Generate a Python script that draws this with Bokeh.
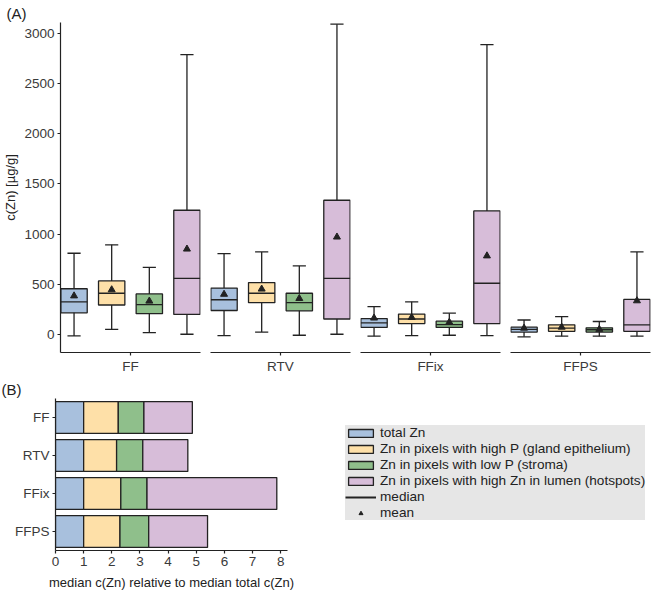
from bokeh.plotting import figure
from bokeh.models import (ColumnDataSource, Range1d, FactorRange, FixedTicker,
                          Title, Legend, LegendItem)
from bokeh.layouts import row, column
from bokeh.transform import dodge
from bokeh.embed import file_html
from bokeh.resources import INLINE

# ---------------- data ----------------
groups = ["FF", "RTV", "FFix", "FFPS"]
series = ["total Zn",
          "Zn in pixels with high P (gland epithelium)",
          "Zn in pixels with low P (stroma)",
          "Zn in pixels with high Zn in lumen (hotspots)"]
colors = ["#A8C0DD", "#FEE0A8", "#8FBF8B", "#D7BDD9"]

# box plot statistics, one list per group (series order as above), c(Zn) in µg/g
whisker_low = [[-17, 49, 16, 0], [-14, 22, -10, 0], [-19, -14, -10, -14], [-26, -19, -19, -19]]
quart_1 = [[214, 292, 205, 198], [237, 315, 234, 152], [68, 107, 68, 107], [22, 29, 22, 29]]
medians = [[324, 409, 295, 558], [344, 409, 315, 558], [113, 152, 97, 509], [49, 61, 45, 94]]
quart_3 = [[454, 532, 402, 1237], [461, 516, 409, 1337], [156, 201, 130, 1230], [71, 94, 64, 347]]
whisker_high = [[808, 892, 668, 2789], [805, 821, 682, 3093], [276, 324, 210, 2889], [142, 175, 127, 821]]
means = [[383, 444, 331, 850], [399, 451, 357, 970], [162, 168, 120, 782], [61, 71, 49, 334]]
y_ticks = [0, 500, 1000, 1500, 2000, 2500, 3000]

# median c(Zn) relative to median total c(Zn) (stacked segments), per group
rel_total = [1.00, 1.00, 1.00, 1.00]
rel_high_p = [1.23, 1.17, 1.32, 1.29]
rel_low_p = [0.91, 0.93, 0.93, 1.02]
rel_hotspots = [1.72, 1.60, 4.61, 2.09]
rel_ticks = [0, 1, 2, 3, 4, 5, 6, 7, 8]

# ---------------- style ----------------
FONT = "Liberation Sans"
INK = "#222222"
TICK_TXT = "#3A3A3A"
BOX_W = 0.7
LW = 1.3
TOP = 22


def style_axis(ax):
    ax.axis_line_color = INK
    ax.axis_line_width = 1.2
    ax.major_tick_line_color = INK
    ax.major_tick_line_width = 1.2
    ax.major_tick_out = 3
    ax.major_tick_in = 0
    ax.minor_tick_line_color = None
    ax.major_label_text_font = FONT
    ax.major_label_text_font_size = "13.5px"
    ax.major_label_text_color = TICK_TXT
    ax.major_label_standoff = 3
    ax.axis_label_text_font = FONT
    ax.axis_label_text_font_size = "13px"
    ax.axis_label_text_font_style = "normal"
    ax.axis_label_text_color = INK


def panel_tag(text):
    return Title(text=text, align="left", offset=-54, standoff=2,
                 text_font=FONT, text_font_size="15px", text_font_style="normal",
                 text_color=INK)


# ---------------- panel A ----------------
y_range = Range1d(-182, 3110)
top_figs = []
n = len(series)
for gi, g in enumerate(groups):
    first = gi == 0
    f = figure(frame_width=140, frame_height=330,
               x_range=Range1d(-0.36, n - 1 + 0.36), y_range=y_range,
               output_backend="svg", toolbar_location=None,
               y_axis_location="left" if first else None,
               min_border_left=55 if first else 5,
               min_border_right=2 if gi == len(groups) - 1 else 5,
               min_border_top=TOP, min_border_bottom=0)
    f.outline_line_color = None
    f.grid.visible = False

    src = ColumnDataSource(dict(x=list(range(n)), lo=whisker_low[gi], q1=quart_1[gi],
                                med=medians[gi], q3=quart_3[gi], hi=whisker_high[gi],
                                mean=means[gi], color=colors))
    # whiskers and caps
    f.segment(x0="x", y0="lo", x1="x", y1="hi", source=src, line_color=INK, line_width=LW)
    f.segment(x0=dodge("x", -BOX_W / 4), y0="hi", x1=dodge("x", BOX_W / 4), y1="hi",
              source=src, line_color=INK, line_width=LW)
    f.segment(x0=dodge("x", -BOX_W / 4), y0="lo", x1=dodge("x", BOX_W / 4), y1="lo",
              source=src, line_color=INK, line_width=LW)
    # boxes
    f.vbar(x="x", width=BOX_W, bottom="q1", top="q3", source=src,
           fill_color="color", line_color=INK, line_width=LW)
    # medians
    f.segment(x0=dodge("x", -BOX_W / 2), y0="med", x1=dodge("x", BOX_W / 2), y1="med",
              source=src, line_color=INK, line_width=LW)
    # means
    f.scatter(x="x", y="mean", marker="triangle", size=7, source=src,
              fill_color=INK, line_color=INK)

    centre = (n - 1) / 2
    f.xaxis.ticker = FixedTicker(ticks=[centre])
    f.xaxis.major_label_overrides = {centre: g}
    style_axis(f.xaxis[0])
    if first:
        f.yaxis.ticker = FixedTicker(ticks=y_ticks)
        f.yaxis.axis_label = "c(Zn) [µg/g]"
        f.yaxis.axis_label_standoff = 3
        style_axis(f.yaxis[0])
        f.add_layout(panel_tag("(A)"), "above")
    top_figs.append(f)

# ---------------- panel B ----------------
src_b = ColumnDataSource(dict(group=groups, total=rel_total, high_p=rel_high_p,
                              low_p=rel_low_p, hot=rel_hotspots))
pb = figure(y_range=FactorRange(factors=groups[::-1]), x_range=Range1d(0, 8.24),
            frame_width=232, frame_height=152, output_backend="svg", toolbar_location=None,
            min_border_left=55, min_border_right=20, min_border_top=TOP, min_border_bottom=0)
pb.outline_line_color = None
pb.grid.visible = False
pb.hbar_stack(["total", "high_p", "low_p", "hot"], y="group", height=0.84,
              fill_color=colors, line_color=INK, line_width=LW, source=src_b)
pb.xaxis.ticker = FixedTicker(ticks=rel_ticks)
pb.xaxis.axis_label = "median c(Zn) relative to median total c(Zn)"
style_axis(pb.xaxis[0])
style_axis(pb.yaxis[0])
pb.xaxis.axis_label_standoff = 6
pb.add_layout(panel_tag("(B)"), "above")

# ---------------- legend ----------------
pl = figure(frame_width=340, frame_height=152, x_range=Range1d(0, 1), y_range=Range1d(0, 1),
            output_backend="svg", toolbar_location=None,
            x_axis_location=None, y_axis_location=None,
            min_border_left=0, min_border_right=0, min_border_top=TOP, min_border_bottom=44)
pl.outline_line_color = None
pl.grid.visible = False
items = []
# legend-only renderers, placed outside the visible range
for s, c in zip(series, colors):
    r = pl.quad(left=[5], right=[6], top=[6], bottom=[5], fill_color=c, line_color=INK,
                line_width=LW)
    items.append(LegendItem(label=s, renderers=[r]))
r_med = pl.line(x=[5, 6], y=[5, 5], line_color=INK, line_width=2)
items.append(LegendItem(label="median", renderers=[r_med]))
r_mean = pl.scatter(x=[5], y=[5], marker="triangle", size=9, fill_color=INK, line_color=INK)
items.append(LegendItem(label="mean", renderers=[r_mean]))
legend = Legend(items=items, location=(38, 30), background_fill_color="#E6E6E6",
                background_fill_alpha=1, border_line_color=None, padding=4, spacing=1,
                margin=0, glyph_width=31, glyph_height=10, label_standoff=4,
                label_text_font=FONT, label_text_font_size="13.6px", label_height=14,
                label_text_color=INK)
pl.add_layout(legend)

layout = column(row(*top_figs), row(pb, pl))
open("out.html", "w").write(file_html(layout, INLINE))
